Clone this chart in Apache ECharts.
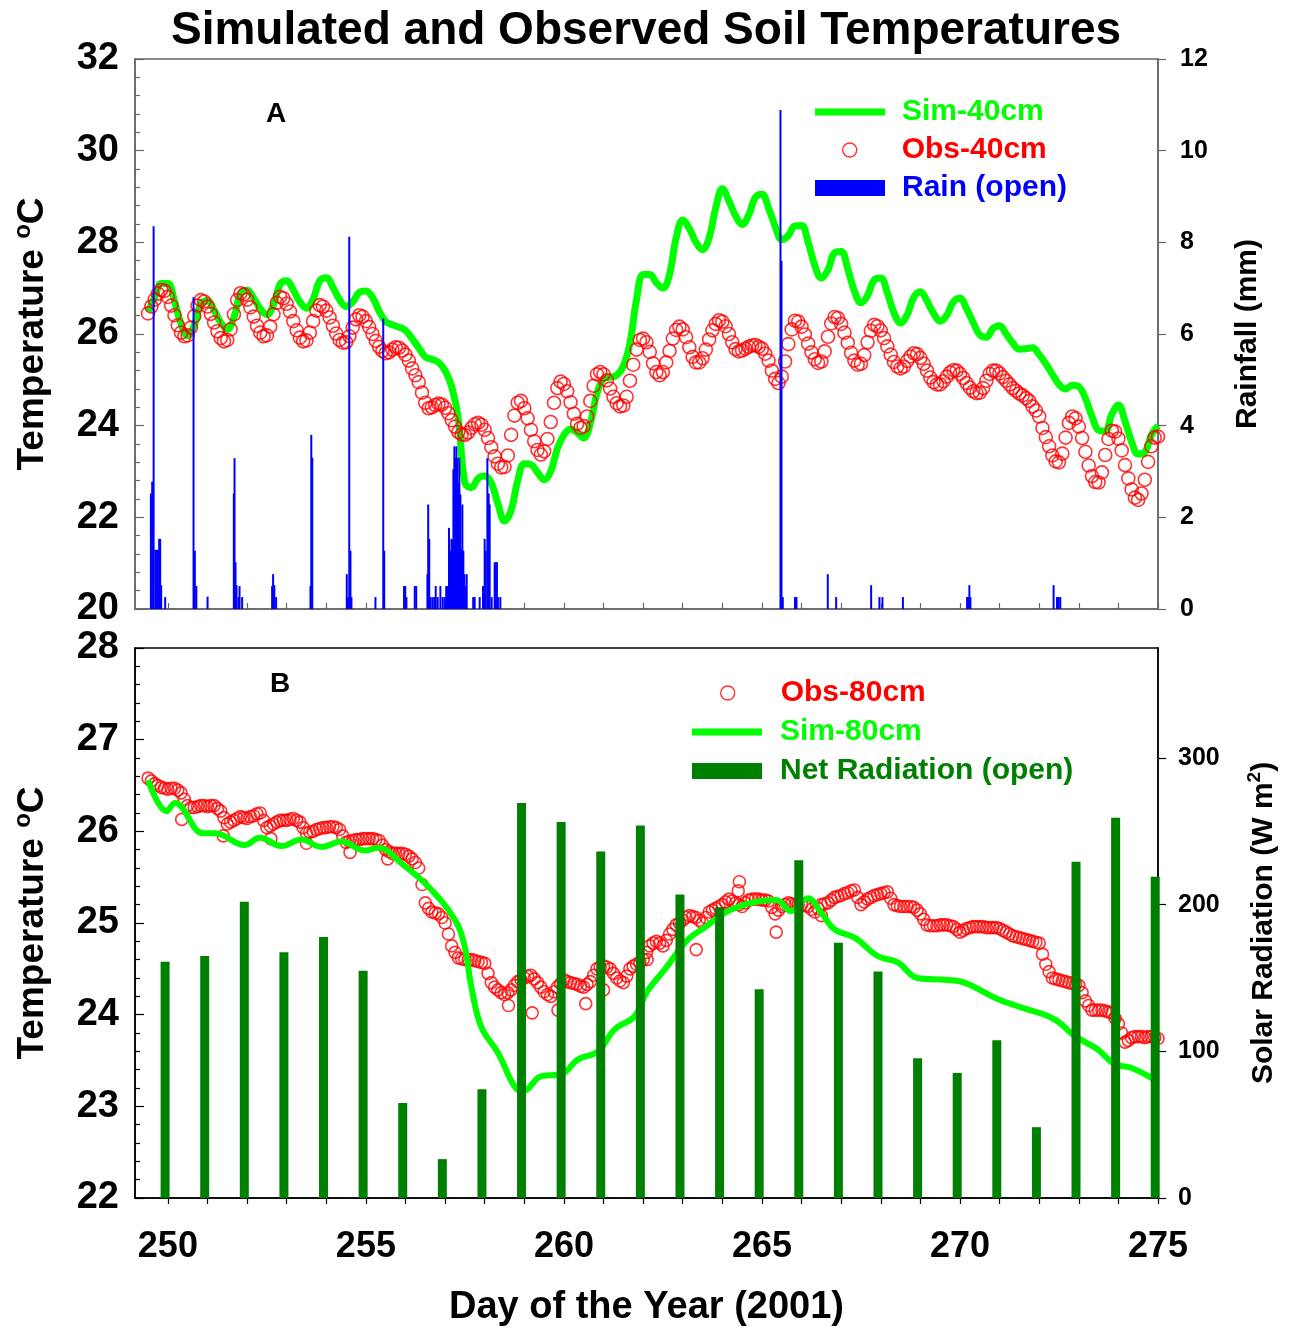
<!DOCTYPE html>
<html>
<head>
<meta charset="utf-8">
<script src="https://cdn.jsdelivr.net/npm/echarts@6/dist/echarts.min.js"></script>
<style>
  html, body { margin: 0; padding: 0; background: #ffffff; }
  #chart { width: 1292px; height: 1328px; }
</style>
</head>
<body>
<div id="chart"></div>
<script>
// ---- Axis ticks / labels ----
const DAY_TICKS = [250,251,252,253,254,255,256,257,258,259,260,261,262,263,264,265,266,267,268,269,270,271,272,273,274,275];
const DAY_LABELS = [250,255,260,265,270,275];
const RAD_TICKS = [0,100,200,300];

// ---- regularly sampled soil temperature series, first sample at day 249.5 ----
const SAMPLE_START = 249.5;
const OBS_PER_DAY = 12;   // 2-hourly observations
const SIM_PER_DAY = 6;    // 4-hourly model output

// Observed 40 cm (°C), 2-hourly
const obs40 = [
  26.45, 26.60, 26.75, 26.88, 26.96, 26.94,
  26.81, 26.62, 26.41, 26.19, 26.03, 25.95, 25.97, 26.14, 26.39, 26.62, 26.74, 26.71,
  26.60, 26.44, 26.25, 26.06, 25.91, 25.84, 25.87, 26.10, 26.43, 26.74, 26.89, 26.86,
  26.75, 26.58, 26.38, 26.18, 26.03, 25.95, 25.97, 26.16, 26.43, 26.68, 26.81, 26.78,
  26.66, 26.49, 26.28, 26.08, 25.92, 25.84, 25.86, 26.03, 26.28, 26.51, 26.63, 26.60,
  26.51, 26.36, 26.18, 26.01, 25.87, 25.81, 25.82, 25.95, 26.14, 26.32, 26.41, 26.38,
  26.28, 26.15, 26.00, 25.85, 25.72, 25.63, 25.58, 25.60, 25.66, 25.71, 25.70, 25.64,
  25.55, 25.42, 25.25, 25.10, 24.95, 24.72, 24.50, 24.38, 24.40, 24.45, 24.48, 24.46,
  24.39, 24.27, 24.12, 23.98, 23.86, 23.81, 23.80, 23.85, 23.95, 24.03, 24.06, 24.02,
  23.91, 23.73, 23.53, 23.33, 23.17, 23.09, 23.10, 23.35, 23.80, 24.22, 24.50, 24.54,
  24.38, 24.16, 23.91, 23.66, 23.47, 23.37, 23.44, 23.71, 24.08, 24.50, 24.82, 24.96,
  24.91, 24.75, 24.51, 24.26, 24.04, 23.95, 23.99, 24.20, 24.54, 24.87, 25.12, 25.17,
  25.12, 24.99, 24.81, 24.63, 24.49, 24.42, 24.44, 24.63, 24.98, 25.33, 25.66, 25.87,
  25.90, 25.82, 25.61, 25.36, 25.17, 25.10, 25.17, 25.38, 25.63, 25.90, 26.09, 26.16,
  26.10, 25.93, 25.71, 25.50, 25.38, 25.38, 25.47, 25.66, 25.88, 26.08, 26.22, 26.30,
  26.27, 26.17, 26.00, 25.82, 25.67, 25.62, 25.64, 25.68, 25.72, 25.75, 25.76, 25.72,
  25.68, 25.57, 25.42, 25.20, 25.02, 24.93, 25.07, 25.40, 25.78, 26.10, 26.29, 26.27,
  26.16, 25.99, 25.79, 25.60, 25.45, 25.37, 25.40, 25.62, 25.94, 26.23, 26.37, 26.35,
  26.22, 26.03, 25.81, 25.59, 25.42, 25.33, 25.35, 25.54, 25.82, 26.07, 26.20, 26.17,
  26.08, 25.91, 25.73, 25.55, 25.39, 25.29, 25.25, 25.29, 25.41, 25.51, 25.58, 25.56,
  25.48, 25.35, 25.20, 25.05, 24.95, 24.90, 24.90, 24.97, 25.07, 25.16, 25.21, 25.20,
  25.13, 25.04, 24.93, 24.83, 24.75, 24.71, 24.72, 24.82, 24.98, 25.13, 25.20, 25.20,
  25.14, 25.06, 24.98, 24.90, 24.82, 24.76, 24.70, 24.66, 24.60, 24.54, 24.42, 24.33,
  24.20, 23.95, 23.75, 23.55, 23.35, 23.22, 23.20, 23.39, 23.74, 24.06, 24.20, 24.16,
  23.98, 23.73, 23.43, 23.13, 22.90, 22.77, 22.76, 22.98, 23.36, 23.71, 23.89, 23.87,
  23.72, 23.46, 23.14, 22.85, 22.61, 22.43, 22.38, 22.52, 22.82, 23.21, 23.55, 23.74,
  23.76
];

// Simulated 40 cm (°C), 4-hourly
const sim40 = [
  26.49, 26.80, 27.10,
  27.10, 26.72, 26.22, 25.96, 26.19, 26.65,
  26.73, 26.52, 26.25, 26.10, 26.36, 26.87,
  26.96, 26.78, 26.55, 26.42, 26.64, 27.08,
  27.16, 26.96, 26.70, 26.56, 26.76, 27.16,
  27.23, 27.02, 26.75, 26.60, 26.70, 26.91,
  26.94, 26.80, 26.50, 26.27, 26.20, 26.15,
  26.08, 25.90, 25.70, 25.50, 25.45, 25.38,
  25.20, 24.85, 24.15, 22.75, 22.65, 22.85,
  22.90, 22.75, 22.30, 21.92, 22.15, 22.80,
  23.17, 23.15, 22.98, 22.82, 23.00, 23.50,
  23.80, 23.93, 23.85, 23.73, 24.05, 24.70,
  25.02, 25.06, 25.10, 25.30, 25.80, 26.75,
  27.30, 27.30, 27.12, 27.00, 27.30, 28.10,
  28.49, 28.30, 28.00, 27.84, 28.10, 28.75,
  29.17, 28.90, 28.58, 28.39, 28.60, 28.98,
  29.05, 28.75, 28.35, 28.06, 28.15, 28.36,
  28.37, 28.00, 27.50, 27.22, 27.40, 27.77,
  27.80, 27.42, 26.94, 26.68, 26.84, 27.18,
  27.22, 26.90, 26.46, 26.24, 26.42, 26.80,
  26.92, 26.72, 26.45, 26.28, 26.41, 26.70,
  26.78, 26.55, 26.25, 25.98, 25.93, 26.12,
  26.18, 26.00, 25.80, 25.67, 25.68, 25.70,
  25.55, 25.35, 25.12, 24.90, 24.80, 24.88,
  24.85, 24.60, 24.20, 23.90, 23.88, 24.25,
  24.45, 24.10, 23.65, 23.38, 23.42, 23.80,
  24.00
];

// Observed 80 cm (°C), 2-hourly
const obs80 = [
  26.58, 26.55, 26.52, 26.50, 26.48, 26.47,
  26.46, 26.47, 26.47, 26.45, 26.42, 26.35, 26.28, 26.26, 26.26, 26.27, 26.28, 26.28,
  26.27, 26.28, 26.28, 26.25, 26.22, 26.15, 26.08, 26.10, 26.12, 26.14, 26.16, 26.15,
  26.14, 26.16, 26.17, 26.19, 26.20, 26.12, 26.04, 26.06, 26.08, 26.10, 26.12, 26.12,
  26.12, 26.13, 26.14, 26.12, 26.10, 26.04, 25.98, 25.99, 26.00, 26.02, 26.03, 26.04,
  26.04, 26.05, 26.05, 26.04, 26.02, 25.95, 25.88, 25.89, 25.90, 25.91, 25.91, 25.92,
  25.92, 25.92, 25.92, 25.91, 25.90, 25.85, 25.80, 25.78, 25.76, 25.76, 25.76, 25.76,
  25.75, 25.73, 25.70, 25.66, 25.60, 25.42, 25.22, 25.16, 25.12, 25.11, 25.10, 25.06,
  25.00, 24.88, 24.75, 24.68, 24.62, 24.61, 24.60, 24.60, 24.60, 24.59, 24.58, 24.57,
  24.56, 24.45, 24.35, 24.30, 24.27, 24.24, 24.22, 24.24, 24.27, 24.32, 24.36, 24.38,
  24.40, 24.42, 24.43, 24.39, 24.35, 24.30, 24.25, 24.22, 24.20, 24.25, 24.30, 24.34,
  24.38, 24.36, 24.35, 24.34, 24.33, 24.31, 24.30, 24.33, 24.36, 24.43, 24.50, 24.52,
  24.53, 24.52, 24.50, 24.45, 24.40, 24.37, 24.35, 24.42, 24.50, 24.53, 24.55, 24.57,
  24.60, 24.68, 24.75, 24.78, 24.80, 24.78, 24.75, 24.81, 24.88, 24.93, 24.98, 25.00,
  25.03, 25.06, 25.08, 25.07, 25.06, 25.03, 25.00, 25.06, 25.12, 25.14, 25.16, 25.18,
  25.20, 25.23, 25.26, 25.24, 25.22, 25.20, 25.18, 25.22, 25.25, 25.26, 25.26, 25.26,
  25.25, 25.25, 25.24, 25.17, 25.10, 25.14, 25.18, 25.20, 25.22, 25.21, 25.20, 25.20,
  25.20, 25.19, 25.18, 25.15, 25.12, 25.16, 25.20, 25.21, 25.22, 25.25, 25.28, 25.29,
  25.30, 25.32, 25.33, 25.35, 25.36, 25.28, 25.20, 25.23, 25.26, 25.28, 25.30, 25.31,
  25.32, 25.33, 25.34, 25.27, 25.20, 25.19, 25.18, 25.18, 25.18, 25.18, 25.17, 25.14,
  25.10, 25.04, 24.98, 24.97, 24.97, 24.97, 24.98, 24.98, 24.98, 24.97, 24.96, 24.93,
  24.90, 24.92, 24.94, 24.95, 24.96, 24.96, 24.96, 24.96, 24.95, 24.95, 24.95, 24.95,
  24.94, 24.92, 24.90, 24.88, 24.86, 24.85, 24.84, 24.83, 24.82, 24.81, 24.80, 24.79,
  24.78, 24.66, 24.55, 24.47, 24.40, 24.39, 24.38, 24.37, 24.36, 24.35, 24.34, 24.33,
  24.32, 24.24, 24.15, 24.10, 24.05, 24.05, 24.05, 24.05, 24.04, 24.03, 24.02, 23.96,
  23.90, 23.80, 23.70, 23.72, 23.75, 23.76, 23.76, 23.76, 23.75, 23.76, 23.76, 23.75,
  23.74
];
// Scattered single readings at 80 cm (day, °C)
const obs80ExtraDays = [250.35, 251.40, 252.60, 253.50, 254.60, 255.55, 258.60, 259.20, 259.85, 260.55, 261.00, 262.10, 263.34, 264.43, 264.40, 265.36, 266.50];
const obs80ExtraTemps = [26.13, 25.95, 25.92, 25.87, 25.77, 25.70, 24.10, 24.02, 24.05, 24.12, 24.27, 24.60, 24.71, 25.45, 25.35, 24.90, 25.08];

// Simulated 80 cm (day, °C)
const sim80Days = [249.50, 249.97, 250.18, 250.89, 251.19, 251.94, 252.32, 252.87, 253.37, 253.88, 254.38, 254.97, 255.31, 255.90, 256.57, 257.24, 257.49, 257.66, 257.91, 258.34, 258.80, 258.97, 259.43, 259.93, 260.35, 260.86, 261.28, 261.78, 262.10, 262.54, 263.13, 263.55, 264.06, 264.56, 264.98, 265.36, 265.74, 266.16, 266.50, 266.83, 267.34, 267.92, 268.43, 268.93, 269.61, 270.11, 270.95, 271.54, 272.38, 272.89, 273.48, 273.90, 274.32, 274.95];
const sim80Temps = [26.56, 26.22, 26.31, 25.98, 25.98, 25.85, 25.93, 25.84, 25.91, 25.83, 25.89, 25.79, 25.82, 25.65, 25.40, 25.04, 24.75, 24.31, 23.87, 23.58, 23.19, 23.17, 23.33, 23.35, 23.51, 23.60, 23.84, 23.98, 24.25, 24.49, 24.82, 24.95, 25.11, 25.20, 25.24, 25.25, 25.13, 25.27, 25.11, 24.93, 24.84, 24.64, 24.57, 24.40, 24.38, 24.35, 24.17, 24.08, 23.95, 23.77, 23.62, 23.46, 23.42, 23.28];

// Hourly rainfall, open site (day, mm)
const rainDays = [249.571, 249.604, 249.640, 249.685, 249.715, 249.748, 249.780, 249.806, 249.831, 249.932,
  250.648, 250.681, 250.719, 251.002,
  251.665, 251.683, 251.708, 251.733, 251.784, 251.809, 251.875,
  252.632, 252.657, 252.687, 252.733,
  253.601, 253.621, 253.646,
  254.517, 254.550, 254.580, 254.610, 254.635,
  255.241, 255.438, 255.463, 255.963, 255.993, 256.023, 256.233, 256.271,
  256.553, 256.573, 256.599, 256.636, 256.687, 256.737, 256.763, 256.813, 256.881, 256.939, 256.990,
  257.028, 257.065, 257.098, 257.128, 257.159, 257.184, 257.209, 257.234, 257.260, 257.285, 257.310,
  257.335, 257.360, 257.386, 257.411, 257.436, 257.461, 257.487, 257.520, 257.545,
  257.709, 257.747, 257.873, 257.956, 257.999, 258.024, 258.067, 258.100, 258.125, 258.176,
  258.251, 258.284, 258.309, 258.334, 258.395,
  265.468, 265.493, 265.526, 265.834, 265.872, 266.662, 266.874, 267.757, 267.966, 268.042, 268.559,
  270.179, 270.212, 270.237, 270.263, 272.364, 272.450, 272.491, 272.533];
const rainMM = [2.52, 2.78, 8.35, 1.29, 1.29, 1.29, 1.53, 1.53, 0.52, 0.26,
  6.80, 1.27, 0.50, 0.27,
  2.52, 3.29, 1.02, 0.52, 0.26, 0.50, 0.26,
  0.50, 0.76, 0.52, 0.26,
  0.50, 3.80, 3.30,
  0.76, 0.26, 8.12, 1.27, 0.26,
  0.26, 6.34, 1.27, 0.50, 0.50, 0.26, 0.50, 0.50,
  0.76, 2.28, 1.53, 0.26, 0.26, 0.26, 0.50, 0.26, 0.50, 0.26, 0.26,
  0.50, 0.50, 1.77, 1.27, 1.53, 1.50, 3.05, 3.55, 3.30, 3.55, 3.30,
  2.75, 3.30, 2.50, 1.30, 2.28, 1.27, 0.76, 0.50, 0.76,
  0.26, 0.26, 0.26, 0.50, 1.53, 1.27, 3.29, 2.52, 2.28, 0.26,
  1.02, 1.02, 1.02, 0.26, 0.26,
  10.89, 7.60, 0.26, 0.26, 0.26, 0.76, 0.26, 0.52, 0.26, 0.26, 0.26,
  0.26, 0.26, 0.52, 0.26, 0.52, 0.26, 0.26, 0.26];

// Daily mean net radiation, open site (W m-2)
const radDays = [249.93, 250.93, 251.93, 252.93, 253.93, 254.93, 255.93, 256.93, 257.93, 258.93, 259.93, 260.93, 261.93, 262.93, 263.93, 264.93, 265.93, 266.93, 267.93, 268.93, 269.93, 270.93, 271.93, 272.93, 273.93, 274.93];
const netRad = [161, 165, 202, 167.5, 178, 155, 64.7, 26.5, 74.2, 269.4, 256.4, 236.2, 254, 207, 198.3, 142.3, 230.3, 174, 154.5, 95.3, 85.3, 107.6, 48.3, 229.2, 259.2, 219];

// ---- build series data ----
const sampled = (arr, perDay) => arr.map((v, i) => [SAMPLE_START + i / perDay, v]);
const pairs = (xs, ys) => xs.map((x, i) => [x, ys[i]]);

const FONT = '"Liberation Sans", Arial, Helvetica, sans-serif';
const GREEN = '#00ff00';
const RED = '#ff0000';
const BLUE = '#0000ff';
const DKGREEN = '#008000';
const X_MIN = 249.17, X_MAX = 275;

const bold = (size, color) => ({ fontFamily: FONT, fontWeight: 'bold', fontSize: size, color: color || '#000' });

// one legend entry per block so each marker keeps its own size
function legendBlock(name, left, centerY, icon, w, h, color, textColor, textPad, itemStyle) {
  return {
    selectedMode: false,
    left: left, top: centerY - 16, padding: 0,
    itemWidth: w, itemHeight: h,
    textStyle: Object.assign(bold(30, textColor), { lineHeight: 32, padding: [0, 0, 0, textPad] }),
    data: [{ name: name, icon: icon, itemStyle: itemStyle || { color: color, borderWidth: 0 } }]
  };
}
const ring = { color: '#ffffff', borderColor: RED, borderWidth: 1.4 };

const tempName = '{a|Temperature }{s|o}{a|C}';
const tempNameStyle = {
  rich: {
    a: Object.assign(bold(37), { lineHeight: 44 }),
    s: Object.assign(bold(24), { verticalAlign: 'top', lineHeight: 44 })
  }
};

const chart = echarts.init(document.getElementById('chart'), null, { renderer: 'canvas' });

const option = {
  animation: false,
  backgroundColor: '#ffffff',
  title: {
    text: 'Simulated and Observed Soil Temperatures',
    left: 'center', top: 3,
    textStyle: bold(46)
  },
  graphic: [
    { type: 'text', left: 266, top: 100, style: { text: 'A', font: 'bold 28px ' + FONT, fill: '#000' } },
    { type: 'text', left: 270, top: 670, style: { text: 'B', font: 'bold 28px ' + FONT, fill: '#000' } }
  ],
  legend: [
    legendBlock('Sim-40cm', 815, 112, 'rect', 70, 7, GREEN, GREEN, 12),
    legendBlock('Obs-40cm', 842, 150, 'circle', 70, 14, RED, RED, 12, ring),
    legendBlock('Rain (open)', 815, 188, 'rect', 70, 16, BLUE, BLUE, 12),
    legendBlock('Obs-80cm', 720, 693, 'circle', 70, 14, RED, RED, 13, ring),
    legendBlock('Sim-80cm', 692, 732, 'rect', 70, 7, GREEN, GREEN, 13),
    legendBlock('Net Radiation (open)', 692, 771, 'rect', 70, 16, DKGREEN, DKGREEN, 13)
  ],
  grid: [
    { left: 135, top: 59, width: 1023, height: 550, show: true, borderColor: '#666', borderWidth: 1.5 },
    { left: 135, top: 648, width: 1023, height: 551, show: true, borderColor: '#000', borderWidth: 1.5 }
  ],
  xAxis: [
    {
      type: 'value', gridIndex: 0, min: X_MIN, max: X_MAX,
      axisLine: { lineStyle: { color: '#666', width: 1.5 } },
      axisTick: { inside: true, length: 6, customValues: DAY_TICKS, lineStyle: { color: '#666', width: 1.2 } },
      axisLabel: { show: false },
      splitLine: { show: false }
    },
    {
      type: 'value', gridIndex: 1, min: X_MIN, max: X_MAX,
      axisLine: { lineStyle: { color: '#000', width: 1.5 } },
      axisTick: { inside: false, length: 6, customValues: DAY_TICKS, lineStyle: { color: '#000', width: 1.2 } },
      axisLabel: Object.assign(bold(36), { customValues: DAY_LABELS, margin: 31 }),
      splitLine: { show: false },
      name: 'Day of the Year (2001)',
      nameLocation: 'middle', nameGap: 91,
      nameTextStyle: bold(38)
    }
  ],
  yAxis: [
    {
      type: 'value', gridIndex: 0, position: 'left', min: 20, max: 32, interval: 2,
      axisLine: { show: true, lineStyle: { color: '#666', width: 1.5 } },
      axisTick: { show: true, inside: true, length: 9, lineStyle: { color: '#666', width: 1.2 } },
      minorTick: { show: true, splitNumber: 5, length: 5, lineStyle: { color: '#666', width: 1.2 } },
      axisLabel: Object.assign(bold(38), { margin: 16 }),
      splitLine: { show: false },
      name: tempName,
      nameLocation: 'middle', nameGap: 80, nameRotate: 90,
      nameTextStyle: tempNameStyle
    },
    {
      type: 'value', gridIndex: 0, position: 'right', min: 0, max: 12, interval: 2,
      axisLine: { show: true, lineStyle: { color: '#666', width: 1.5 } },
      axisTick: { show: true, inside: false, length: 8, lineStyle: { color: '#666', width: 1.2 } },
      axisLabel: Object.assign(bold(25), { margin: 22 }),
      splitLine: { show: false },
      name: 'Rainfall (mm)',
      nameLocation: 'middle', nameGap: 75, nameRotate: 90,
      nameTextStyle: bold(30)
    },
    {
      type: 'value', gridIndex: 1, position: 'left', min: 22, max: 28, interval: 1,
      axisLine: { show: true, lineStyle: { color: '#000', width: 1.5 } },
      axisTick: { show: true, inside: true, length: 9, lineStyle: { color: '#000', width: 1.2 } },
      minorTick: { show: true, splitNumber: 5, length: 5, lineStyle: { color: '#000', width: 1.2 } },
      axisLabel: Object.assign(bold(38), { margin: 16 }),
      splitLine: { show: false },
      name: tempName,
      nameLocation: 'middle', nameGap: 80, nameRotate: 90,
      nameTextStyle: tempNameStyle
    },
    {
      type: 'value', gridIndex: 1, position: 'right', min: 0, max: 375,
      axisLine: { show: true, lineStyle: { color: '#000', width: 1.5 } },
      axisTick: { show: true, inside: false, length: 8, customValues: RAD_TICKS, lineStyle: { color: '#000', width: 1.2 } },
      axisLabel: Object.assign(bold(25), { margin: 20, customValues: RAD_TICKS }),
      splitLine: { show: false },
      name: '{a|Solar Radiation (W m}{s|2}{a|)}',
      nameLocation: 'middle', nameGap: 87, nameRotate: 90,
      nameTextStyle: { rich: { a: Object.assign(bold(30), { lineHeight: 38 }), s: Object.assign(bold(19), { verticalAlign: 'top', lineHeight: 38 }) } }
    }
  ],
  series: [
    {
      name: 'Sim-40cm', type: 'line', xAxisIndex: 0, yAxisIndex: 0,
      data: sampled(sim40, SIM_PER_DAY), smooth: 0.4, symbol: 'none',
      lineStyle: { color: GREEN, width: 7 }, itemStyle: { color: GREEN }, z: 2
    },
    {
      name: 'Obs-40cm', type: 'scatter', xAxisIndex: 0, yAxisIndex: 0,
      data: sampled(obs40, OBS_PER_DAY), symbol: 'circle', symbolSize: 13,
      itemStyle: { color: 'rgba(255,255,255,0)', borderColor: RED, borderWidth: 1.6 }, z: 3
    },
    {
      name: 'Rain (open)', type: 'bar', xAxisIndex: 0, yAxisIndex: 1,
      data: pairs(rainDays, rainMM), barWidth: 2,
      itemStyle: { color: BLUE }, z: 4
    },
    {
      name: 'Obs-80cm', type: 'scatter', xAxisIndex: 1, yAxisIndex: 2,
      data: sampled(obs80, OBS_PER_DAY).concat(pairs(obs80ExtraDays, obs80ExtraTemps)), symbol: 'circle', symbolSize: 12,
      itemStyle: { color: 'rgba(255,255,255,0)', borderColor: RED, borderWidth: 1.6 }, z: 2
    },
    {
      name: 'Sim-80cm', type: 'line', xAxisIndex: 1, yAxisIndex: 2,
      data: pairs(sim80Days, sim80Temps), smooth: 0.4, symbol: 'none',
      lineStyle: { color: GREEN, width: 6 }, itemStyle: { color: GREEN }, z: 3
    },
    {
      name: 'Net Radiation (open)', type: 'bar', xAxisIndex: 1, yAxisIndex: 3,
      data: pairs(radDays, netRad), barWidth: 9,
      itemStyle: { color: DKGREEN }, z: 4
    }
  ]
};

chart.setOption(option);
</script>
</body>
</html>
